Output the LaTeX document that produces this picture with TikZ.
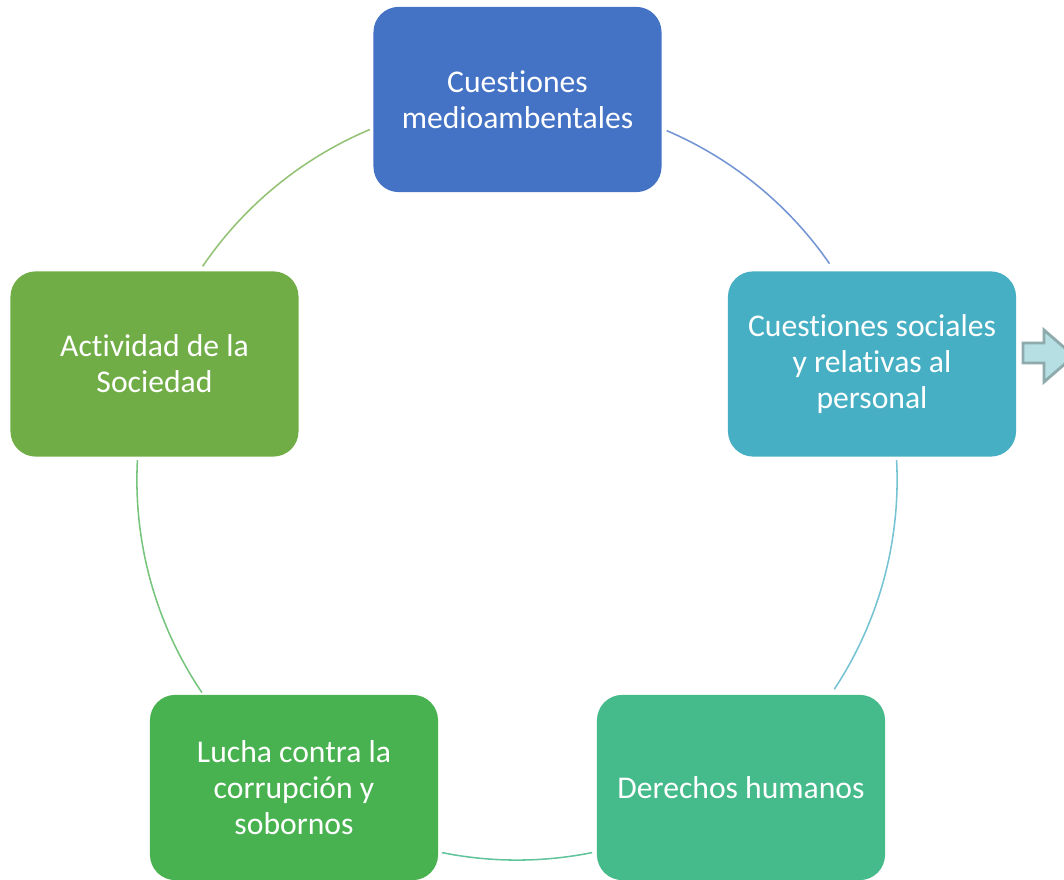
\documentclass[tikz,border=0pt]{standalone}
\usepackage{fontspec}
\setmainfont{Carlito}[Ligatures=CommonOff]
\usepackage{tikz}
\usetikzlibrary{calc}

\definecolor{medioblue}{HTML}{4472C4}
\definecolor{socialteal}{HTML}{47AFC4}
\definecolor{derechosgreen}{HTML}{45BA8B}
\definecolor{luchagreen}{HTML}{49B250}
\definecolor{actividadgreen}{HTML}{70AD47}
\definecolor{arrowfill}{HTML}{B5DFE3}
\definecolor{arrowline}{HTML}{8FAAAC}

\begin{document}
\begin{tikzpicture}[
    x=0.025cm, y=0.025cm,
    box/.style={rounded corners=18pt, minimum width=7.2cm, minimum height=4.63cm,
        text=white, align=center, inner sep=0pt,
        font=\fontsize{22.5}{25.5}\selectfont},
    ring line/.style={line width=1.1pt},
    every node/.style={color=white}
    ]

    \useasboundingbox (0,0) rectangle (1064,880);

    % centre of the ring
    \coordinate (O) at (517,400);

    % ring, one arc per box
    \draw[ring line, medioblue!75]  ($(O)+(66.8:9.5cm)$) arc[start angle=66.8, end angle=34.7, radius=9.5cm];
    \draw[ring line, socialteal!75] ($(O)+(3:9.5cm)$) arc[start angle=3, end angle=-33.4, radius=9.5cm];
    \draw[ring line, derechosgreen!85] ($(O)+(-78.6:9.5cm)$) arc[start angle=-78.6, end angle=-101.4, radius=9.5cm];
    \draw[ring line, luchagreen!75] ($(O)+(-146:9.5cm)$) arc[start angle=-146, end angle=-183, radius=9.5cm];
    \draw[ring line, actividadgreen!75] ($(O)+(145.8:9.5cm)$) arc[start angle=145.8, end angle=112.8, radius=9.5cm];

    % boxes
    \node[box, fill=medioblue]      (medio)     at (517.5,780.5) {Cuestiones\\medioambentales};
    \node[box, fill=socialteal]     (social)    at (872,516)     {Cuestiones sociales\\y relativas al\\personal};
    \node[box, fill=derechosgreen]  (derechos)  at (741,92.5)    {Derechos humanos};
    \node[box, fill=luchagreen]     (lucha)     at (294,92.5)    {Lucha contra la\\corrupción y\\sobornos};
    \node[box, fill=actividadgreen] (actividad) at (154.5,516)   {Actividad de la\\Sociedad};

    % arrow at the right
    \draw[line width=2pt, draw=arrowline, fill=arrowfill, line join=miter]
        (1023,537) -- (1044,537) -- (1044,550) -- (1074,524)
        -- (1044,498) -- (1044,517) -- (1023,517) -- cycle;

\end{tikzpicture}
\end{document}
